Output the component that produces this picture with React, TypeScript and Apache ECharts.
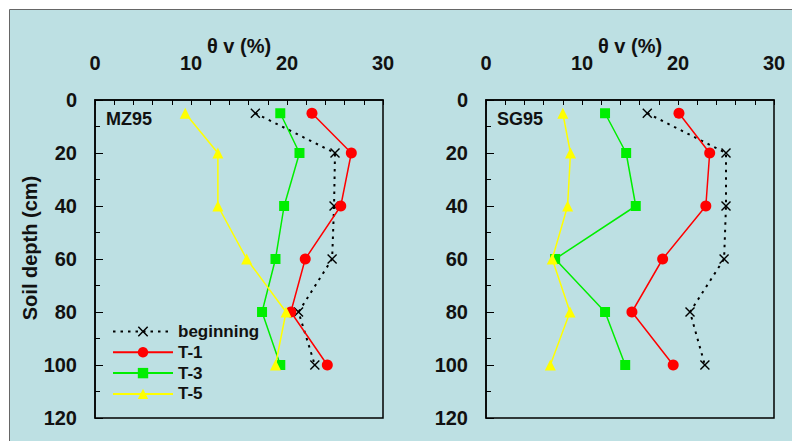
import React, { useEffect, useRef } from "react";
import * as echarts from "echarts";

const depths = [5, 20, 40, 60, 80, 100];
const xTicks = [0, 10, 20, 30];
const yTicks = [0, 20, 40, 60, 80, 100, 120];
const seriesNames = ["beginning", "T-1", "T-3", "T-5"];
const panelNames = ["MZ95", "SG95"];

const mzBeginning = [16.7, 25.0, 24.9, 24.7, 21.2, 22.9];
const mzT1 = [22.6, 26.7, 25.6, 21.9, 20.4, 24.2];
const mzT3 = [19.3, 21.3, 19.7, 18.8, 17.4, 19.3];
const mzT5 = [9.4, 12.8, 12.8, 15.8, 19.9, 18.8];

const sgBeginning = [16.8, 25.0, 25.0, 24.8, 21.25, 22.8];
const sgT1 = [20.1, 23.3, 22.9, 18.4, 15.2, 19.5];
const sgT3 = [12.4, 14.6, 15.6, 7.2, 12.4, 14.5];
const sgT5 = [8.0, 8.8, 8.5, 6.9, 8.75, 6.7];

const FONT = "'Liberation Sans', Arial, Helvetica, sans-serif";
const BG = "#bde0e3";
const X_SYMBOL =
  "path://M0,1 L1,0 L5,4 L9,0 L10,1 L6,5 L10,9 L9,10 L5,6 L1,10 L0,9 L4,5 Z";

const styles = [
  { color: "#000000", symbol: X_SYMBOL, size: 10, lineType: [2.5, 5] as any, width: 2 },
  { color: "#ff0000", symbol: "circle", size: 11, lineType: "solid", width: 1.5 },
  { color: "#00ee00", symbol: "rect", size: 10, lineType: "solid", width: 1.5 },
  { color: "#ffff00", symbol: "triangle", size: 11, lineType: "solid", width: 1.5 },
];

export default function App() {
  const ref = useRef<HTMLDivElement>(null);
  useEffect(() => {
    if (!ref.current) return;
    const chart = echarts.init(ref.current, null, { renderer: "svg" });
    const panels = [
      [mzBeginning, mzT1, mzT3, mzT5],
      [sgBeginning, sgT1, sgT3, sgT5],
    ];
    const lefts = [95, 486];
    const grids = lefts.map((l) => ({
      left: l,
      top: 100,
      width: 288,
      height: 318,
      show: true,
      borderColor: "#000",
      borderWidth: 1.5,
      backgroundColor: "transparent",
    }));
    const xAxes = lefts.map((_, i) => ({
      type: "value",
      gridIndex: i,
      position: "top",
      min: xTicks[0],
      max: xTicks[xTicks.length - 1],
      interval: 10,
      name: "θ v (%)",
      nameLocation: "middle",
      nameGap: 44,
      nameMoveOverlap: false,
      nameTextStyle: { fontFamily: FONT, fontWeight: "bold", fontSize: 20, color: "#111" },
      axisLine: { show: true, lineStyle: { color: "#000", width: 1.5 } },
      axisTick: { show: true, inside: true, length: 5, lineStyle: { color: "#000", width: 1 } },
      minorTick: { show: true, splitNumber: 5, length: 5, lineStyle: { color: "#000", width: 1 } },
      splitLine: { show: false },
      axisLabel: {
        margin: 27,
        fontFamily: FONT,
        fontWeight: "bold",
        fontSize: 20,
        color: "#111",
      },
    }));
    const yAxes = lefts.map((_, i) => ({
      type: "value",
      gridIndex: i,
      inverse: true,
      min: yTicks[0],
      max: yTicks[yTicks.length - 1],
      interval: 20,
      axisLine: { show: true, lineStyle: { color: "#000", width: 1.5 } },
      axisTick: { show: true, inside: true, length: 8, lineStyle: { color: "#000", width: 1 } },
      minorTick: { show: true, splitNumber: 2, length: 5, lineStyle: { color: "#000", width: 1 } },
      splitLine: { show: false },
      axisLabel: {
        margin: 18,
        fontFamily: FONT,
        fontWeight: "bold",
        fontSize: 20,
        color: "#111",
      },
    }));
    const series: any[] = [];
    panels.forEach((arrs, p) => {
      arrs.forEach((vals, k) => {
        const st = styles[k];
        series.push({
          type: "line",
          name: seriesNames[k],
          xAxisIndex: p,
          yAxisIndex: p,
          data: vals.map((v, j) => [v, depths[j]]),
          symbol: st.symbol,
          symbolSize: st.size,
          itemStyle: { color: st.color },
          lineStyle: { color: st.color, width: st.width, type: st.lineType },
          z: 2 + k,
        });
      });
    });
    chart.setOption({
      animation: false,
      backgroundColor: "#ffffff",
      grid: grids,
      xAxis: xAxes,
      yAxis: yAxes,
      series,
      legend: {
        data: seriesNames,
        orient: "vertical",
        left: 107,
        top: 318,
        itemWidth: 60,
        itemHeight: 13,
        itemGap: 3.8,
        textStyle: { fontFamily: FONT, fontWeight: "bold", fontSize: 17, color: "#111" },
      },
      graphic: [
        {
          type: "rect",
          z: -100,
          shape: { x: 9.5, y: 9.5, width: 800, height: 450 },
          style: { fill: BG, stroke: "#666", lineWidth: 1 },
        },
        {
          type: "text",
          x: 30,
          y: 248,
          rotation: Math.PI / 2,
          style: {
            text: "Soil depth (cm)",
            fontFamily: FONT,
            fontWeight: "bold",
            fontSize: 20,
            fill: "#111",
            textAlign: "center",
            textVerticalAlign: "middle",
          },
        },
        ...panelNames.map((n, i) => ({
          type: "text",
          x: lefts[i] + 11,
          y: 119,
          style: {
            text: n,
            fontFamily: FONT,
            fontWeight: "bold",
            fontSize: 18,
            fill: "#111",
            textAlign: "left",
            textVerticalAlign: "middle",
          },
        })),
      ],
    });
    return () => chart.dispose();
  }, []);
  return (
    <div
      ref={ref}
      style={{ position: "fixed", left: 0, top: 0, width: 792, height: 441 }}
    />
  );
}
